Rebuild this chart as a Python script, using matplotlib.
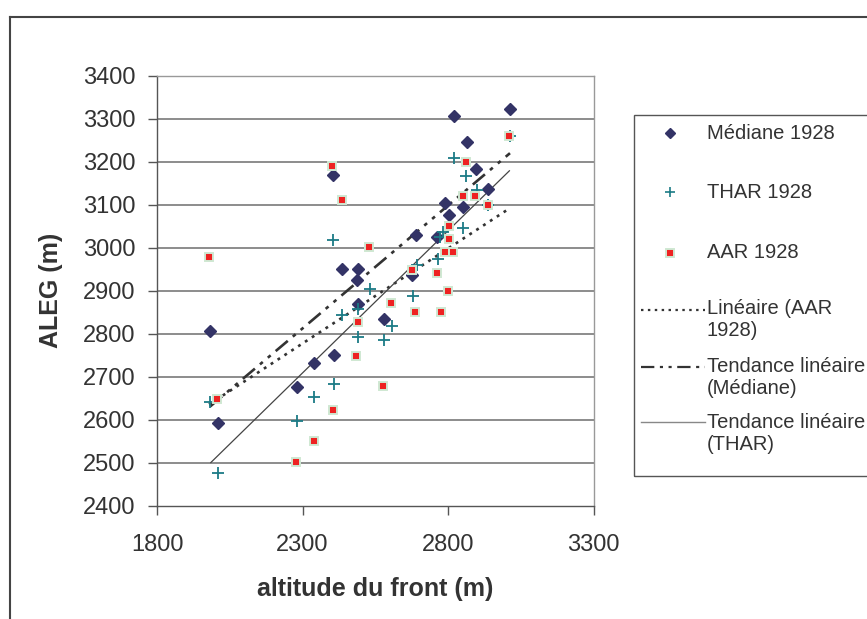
import matplotlib
matplotlib.use("Agg")
import matplotlib.pyplot as plt
from matplotlib.lines import Line2D
from matplotlib.patches import Rectangle

plt.rcParams['font.family'] = ['Liberation Sans', 'DejaVu Sans']

# --- data (altitude du front, ALEG) ---
mediane_x = [1982, 2011, 2280, 2341, 2408, 2404, 2437, 2492, 2486, 2492, 2580,
             2678, 2690, 2762, 2790, 2805, 2851, 2819, 2865, 2897, 2939, 3013]
mediane_y = [2807, 2594, 2677, 2733, 2751, 3169, 2951, 2951, 2925, 2869, 2835,
             2937, 3030, 3026, 3105, 3076, 3094, 3307, 3247, 3183, 3136, 3322]

thar_x = [1982, 2011, 2280, 2341, 2408, 2404, 2437, 2492, 2492, 2532, 2580, 2609,
          2679, 2693, 2765, 2773, 2784, 2852, 2819, 2863, 2899, 2938, 3013]
thar_y = [2642, 2477, 2598, 2654, 2684, 3018, 2845, 2858, 2793, 2904, 2786, 2819,
          2888, 2960, 2973, 3026, 3037, 3045, 3209, 3167, 3134, 3099, 3260]

aar_x = [1979, 2007, 2278, 2340, 2406, 2401, 2435, 2483, 2490, 2529, 2576, 2605, 2678,
         2688, 2762, 2777, 2790, 2799, 2805, 2804, 2817, 2850, 2861, 2894, 2938, 3010]
aar_y = [2979, 2649, 2502, 2550, 2622, 3189, 3110, 2749, 2828, 3001, 2679, 2871, 2948,
         2851, 2941, 2851, 2990, 2900, 3020, 3051, 2990, 3121, 3200, 3121, 3099, 3260]

# trend line end points (as drawn in the original)
trend_aar_x, trend_aar_y = [1979, 3010], [2636, 3091]
trend_med_x, trend_med_y = [1982, 3013], [2631, 3220]
trend_thar_x, trend_thar_y = [1985, 3011], [2501, 3179]

DOTS = (0, (1.1, 2.0))
DASH_DOT_DOT = (0, (6, 2.5, 1.4, 2.5, 1.4, 2.5))

W, H = 867, 619
fig = plt.figure(figsize=(W / 100, H / 100), dpi=100)
fig.patch.set_facecolor("white")


def fpt(x, y):
    # pixel coords -> figure fraction
    return x / W, 1 - y / H


ax = fig.add_axes([157 / W, 1 - 506 / H, (593.5 - 157) / W, (506 - 75.7) / H])

# horizontal gridlines
for g in range(2500, 3400, 100):
    ax.axhline(g, color="#6e6e6e", lw=1.1, zorder=0)

ax.plot(trend_aar_x, trend_aar_y, color="#333333", lw=1.9, ls=DOTS, zorder=2)
ax.plot(trend_med_x, trend_med_y, color="#333333", lw=1.9, ls=DASH_DOT_DOT, zorder=2)
ax.plot(trend_thar_x, trend_thar_y, color="#444444", lw=0.9, zorder=2)

ax.plot(mediane_x, mediane_y, ls="none", marker="D", ms=6.3, color="#333366", mec="#333366", zorder=3)
ax.plot(thar_x, thar_y, ls="none", marker="+", ms=8, mew=1.3, color="#1b7b86", zorder=4)
ax.plot(aar_x, aar_y, ls="none", marker="s", ms=6.2, color="#ee2222", mec="#cfe8d2", mew=1.4, zorder=5)

ax.set_xlim(1800, 3300)
ax.set_ylim(2400, 3400)
ax.set_xticks([1800, 2300, 2800, 3300])
ax.set_yticks(range(2400, 3500, 100))
ax.tick_params(axis="both", direction="out", length=6.5, width=1, color="#555555",
               labelsize=17, labelcolor="#333333")
ax.tick_params(axis="y", pad=9)
ax.tick_params(axis="x", pad=14)

for s in ["left", "bottom"]:
    ax.spines[s].set_color("#555555")
    ax.spines[s].set_linewidth(1)
for s in ["top", "right"]:
    ax.spines[s].set_color("#999999")
    ax.spines[s].set_linewidth(1)

ax.set_xlabel("altitude du front (m)", fontsize=18, fontweight="bold", color="#333333", labelpad=15)
ax.set_ylabel("ALEG (m)", fontsize=18, fontweight="bold", color="#333333", labelpad=14)

# outer frame (chart area border, cut by the image edges)
fig.add_artist(Line2D([fpt(10, 17)[0], 1], [fpt(10, 17)[1]] * 2, color="#444444", lw=1.5))
fig.add_artist(Line2D([fpt(10, 17)[0]] * 2, [fpt(10, 17)[1], 0], color="#444444", lw=1.5))

# legend box
x0, y0 = fpt(634, 476)
fig.add_artist(Rectangle((x0, y0), 260 / W, (476 - 115) / H, transform=fig.transFigure,
                         fill=False, ec="#555555", lw=1))

tx = 707 / W
leg_font = dict(fontsize=14.5, color="#333333", va="center", ha="left")

mx, my = fpt(670, 133)
fig.add_artist(Line2D([mx], [my], marker="D", ms=5, color="#333366", ls="none"))
fig.text(tx, my, "Médiane 1928", **leg_font)

mx, my = fpt(670, 192)
fig.add_artist(Line2D([mx], [my], marker="+", ms=7.5, mew=1.2, color="#1b7b86", ls="none"))
fig.text(tx, my, "THAR 1928", **leg_font)

mx, my = fpt(670, 253)
fig.add_artist(Line2D([mx], [my], marker="s", ms=5.5, color="#ee2222", mec="#cfe8d2", mew=1.4, ls="none"))
fig.text(tx, my, "AAR 1928", **leg_font)

lx0, lx1 = 641 / W, 705 / W
_, ly = fpt(0, 310)
fig.add_artist(Line2D([lx0, lx1], [ly, ly], color="#333333", lw=1.6, ls=DOTS))
fig.text(tx, fpt(0, 308)[1], "Linéaire (AAR", **leg_font)
fig.text(tx, fpt(0, 330)[1], "1928)", **leg_font)

_, ly = fpt(0, 367)
fig.add_artist(Line2D([lx0, lx1], [ly, ly], color="#333333", lw=1.6, ls=DASH_DOT_DOT))
fig.text(tx, ly, "Tendance linéaire", **leg_font)
fig.text(tx, fpt(0, 388)[1], "(Médiane)", **leg_font)

_, ly = fpt(0, 422)
fig.add_artist(Line2D([lx0, lx1], [ly, ly], color="#888888", lw=1.0))
fig.text(tx, fpt(0, 423)[1], "Tendance linéaire", **leg_font)
fig.text(tx, fpt(0, 445)[1], "(THAR)", **leg_font)

fig.savefig("out.png", dpi=100)
